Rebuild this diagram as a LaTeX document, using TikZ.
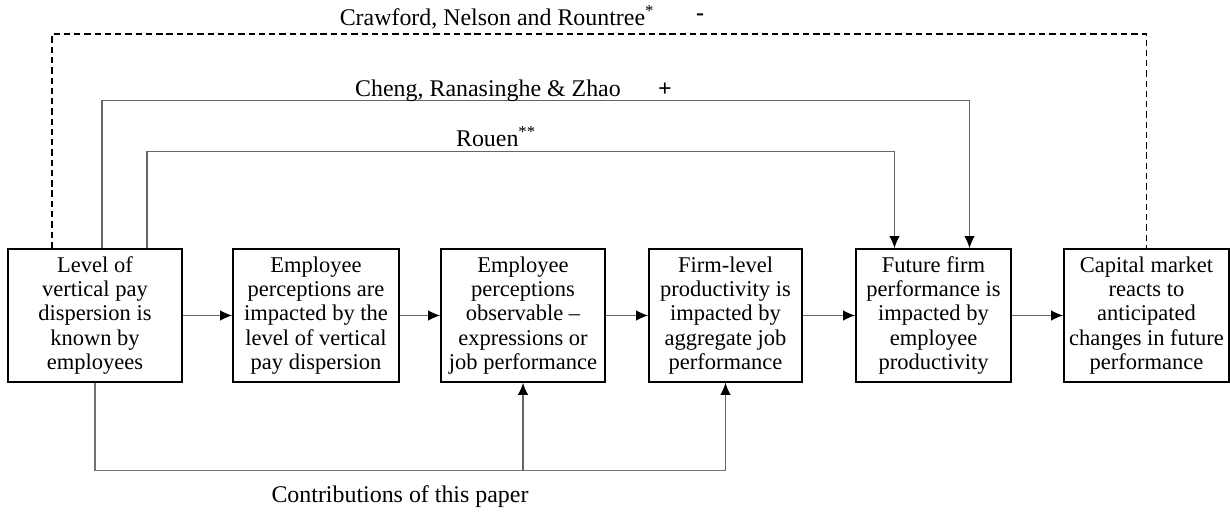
\documentclass[tikz,border=0pt]{standalone}
\usepackage{fontspec}
\setmainfont{Liberation Serif}
\usetikzlibrary{arrows.meta}

\begin{document}
\begin{tikzpicture}[x=0.025cm, y=0.025cm,
        box/.style={draw, line width=1.2pt, align=center, inner sep=0pt,
            minimum height=3.325cm, font=\fontsize{16}{17.2}\selectfont},
        flow/.style={draw=black!60, line width=0.8pt, -{Latex[length=3mm,width=2.6mm,color=black]}},
        link/.style={draw=black!55, line width=0.8pt},
        dashlink/.style={draw=black, line width=1.1pt, dash pattern=on 4.5pt off 2.8pt},
        lbl/.style={font=\fontsize{17}{20}\selectfont},
        sign/.style={font=\fontsize{17}{20}\selectfont\bfseries}]
        \useasboundingbox (0,0) rectangle (1230,512);

        % Boxes
        \node[box, minimum width=4.35cm]  (lvl)    at (95,196.5)   {Level of\\vertical pay\\dispersion is\\known by\\employees};
        \node[box, minimum width=4.15cm]  (percep) at (316,196.5)  {Employee\\perceptions are\\impacted by the\\level of vertical\\pay dispersion};
        \node[box, minimum width=4.1cm]   (observ) at (523,196.5)  {Employee\\perceptions\\observable --\\expressions or\\job performance};
        \node[box, minimum width=3.825cm] (prod)   at (725.5,196.5){Firm-level\\productivity is\\impacted by\\aggregate job\\performance};
        \node[box, minimum width=3.875cm] (perf)   at (933.5,196.5){Future firm\\performance is\\impacted by\\employee\\productivity};
        \node[box, minimum width=4.125cm] (market) at (1146.5,196.5){Capital market\\reacts to\\anticipated\\changes in future\\performance};

        % Chain
        \draw[flow] (lvl) -- (percep);
        \draw[flow] (percep) -- (observ);
        \draw[flow] (observ) -- (prod);
        \draw[flow] (prod) -- (perf);
        \draw[flow] (perf) -- (market);

        % Prior studies
        \draw[dashlink] ([xshift=-1.075cm]lvl.north) -- ++(0,214) -| (market.north);
        \draw[flow] ([xshift=0.175cm]lvl.north) -- ++(0,148) -| ([xshift=0.9cm]perf.north);
        \draw[flow] ([xshift=1.3cm]lvl.north) -- ++(0,97) -| ([xshift=-0.975cm]perf.north);

        \node[lbl]  (crawford) at (497,495) {Crawford, Nelson and Rountree\textsuperscript{*}};
        \node[sign] (minus)    at (700,495) {-};
        \node[lbl]  (cheng)    at (488,421) {Cheng, Ranasinghe \& Zhao};
        \node[sign] (plus)     at (665,422) {+};
        \node[lbl]  (rouen)    at (496,375) {Rouen\textsuperscript{**}};

        % This paper
        \draw[link] (lvl.south) -- ++(0,-88) coordinate (base) -| (prod.south);
        \draw[flow] (base -| prod.south) -- (prod.south);
        \draw[flow] (base -| observ.south) -- (observ.south);
        \node[lbl] (contrib) at (400,15) {Contributions of this paper};
    \end{tikzpicture}
\end{document}
